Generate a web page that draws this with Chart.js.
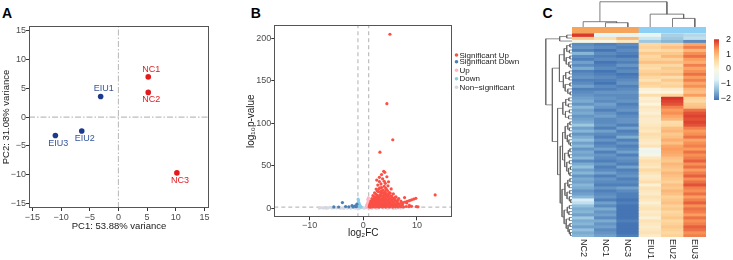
<!DOCTYPE html>
<html><head><meta charset="utf-8">
<script src="https://cdn.jsdelivr.net/npm/chart.js@4.4.0/dist/chart.umd.min.js"></script>
<style>
html,body{margin:0;padding:0;background:#fff;}
body{width:733px;height:260px;position:relative;overflow:hidden;font-family:'Liberation Sans',Arial,sans-serif;}
canvas{position:absolute;}
.lab{position:absolute;font-weight:bold;font-size:14px;line-height:14px;color:#000;}
</style></head><body>
<div class="lab" style="left:2px;top:5.5px">A</div>
<div class="lab" style="left:250.7px;top:5.5px">B</div>
<div class="lab" style="left:542.5px;top:5.5px">C</div>
<canvas id="pca" width="220" height="260" style="left:0;top:0"></canvas>
<canvas id="volcano" width="305" height="260" style="left:220px;top:0"></canvas>
<canvas id="rowdend" width="27" height="210" style="left:545px;top:27px"></canvas>
<canvas id="coldend" width="134" height="27" style="left:572px;top:0"></canvas>
<canvas id="heat" width="148" height="240" style="left:565px;top:20px"></canvas>
<canvas id="cbar" width="17" height="80" style="left:714px;top:29px"></canvas>
<script>
// ---------------- DATA ----------------
// Panel A: PCA
const pcaSamples = ['NC1', 'NC2', 'NC3', 'EIU1', 'EIU2', 'EIU3'];
const pcaGroup   = ['NC', 'NC', 'NC', 'EIU', 'EIU', 'EIU'];
const pcaPC1     = [5.2, 5.2, 10.2, -3.1, -6.4, -11.0];
const pcaPC2     = [7.0, 4.3, -9.7, 3.6, -2.4, -3.2];

// Panel B: volcano, [log2FC, -log10 p]
const sigUp = [
 [1.1,1.6],[1.2,2.4],[1.2,4.0],[1.3,6.2],[1.3,1.9],[1.4,3.1],[1.4,8.5],[1.5,5.0],[1.5,2.2],[1.6,11.3],
 [1.6,3.8],[1.7,1.7],[1.7,6.9],[1.8,2.9],[1.8,14.8],[1.9,4.6],[1.9,9.4],[2.0,2.0],[2.0,7.3],[2.1,3.4],
 [2.1,18.2],[2.2,5.6],[2.2,12.5],[2.3,2.6],[2.3,8.8],[2.4,4.2],[2.4,22.6],[2.5,1.8],[2.5,6.7],[2.5,15.9],
 [2.6,3.0],[2.6,10.4],[2.7,5.2],[2.7,27.3],[2.8,2.3],[2.8,8.0],[2.8,19.7],[2.9,4.0],[2.9,12.9],[3.0,1.9],
 [3.0,6.1],[3.0,31.5],[3.1,3.5],[3.1,9.6],[3.1,24.1],[3.2,2.5],[3.2,16.3],[3.3,5.4],[3.3,11.1],[3.4,3.2],
 [3.4,39.6],[3.4,20.5],[3.5,7.4],[3.5,1.9],[3.6,13.8],[3.6,4.6],[3.6,34.7],[3.7,9.0],[3.7,2.8],[3.8,17.6],
 [3.8,6.0],[3.9,25.8],[3.9,3.6],[4.0,11.7],[4.0,2.2],[4.0,42.3],[4.1,7.9],[4.1,29.4],[4.2,4.8],[4.2,15.0],
 [4.3,2.7],[4.3,21.9],[4.4,9.8],[4.4,37.1],[4.5,5.7],[4.5,3.0],[4.6,13.2],[4.6,26.4],[4.7,7.0],[4.7,2.0],
 [4.8,18.6],[4.8,4.1],[4.9,10.5],[5.0,6.3],[5.0,2.4],[5.1,14.6],[5.2,3.6],[5.2,22.8],[5.3,8.4],[5.4,5.0],
 [5.5,12.0],[5.5,2.1],[5.6,16.9],[5.7,6.8],[5.8,3.4],[5.9,10.1],[6.0,4.7],[6.1,13.5],[6.2,2.6],[6.3,7.6],
 [6.5,5.3],[6.6,11.4],[6.8,3.1],[7.0,8.6],[7.3,4.2],[7.7,12.6],[8.1,6.2],[8.6,3.5],
 [1.2,3.1],[1.3,5.3],[1.5,7.7],[1.6,2.8],[1.7,4.4],[1.8,8.3],[1.9,6.0],[2.0,10.9],[2.0,4.9],[2.1,13.4],
 [2.2,7.1],[2.3,3.8],[2.3,16.8],[2.4,10.7],[2.5,13.0],[2.6,7.9],[2.6,20.4],[2.7,11.8],[2.8,5.4],[2.8,14.7],
 [2.9,9.2],[2.9,22.9],[3.0,13.5],[3.1,7.0],[3.2,10.8],[3.2,19.4],[3.3,14.9],[3.4,6.6],[3.4,24.4],[3.5,10.3],
 [3.5,17.7],[3.6,8.2],[3.7,12.4],[3.7,21.3],[3.8,9.8],[3.9,15.6],[3.9,31.8],[4.0,8.6],[4.0,19.1],[4.1,12.6],
 [4.2,23.6],[4.3,10.2],[4.3,17.3],[4.4,6.4],[4.5,14.4],[4.5,20.9],[4.6,9.1],[4.7,16.2],[4.8,12.2],[4.9,7.8],
 [5.0,17.8],[5.1,10.9],[5.3,13.9],[5.4,8.7],[5.6,11.3],[5.8,7.9],[6.0,13.0],[6.4,9.4],[3.0,36.4],[3.3,28.6],
 [2.5,33.2],[4.7,31.2],[3.8,43.5],
 [5.0,2.9],[5.4,3.4],[5.8,4.0],[6.2,4.6],[6.6,5.2],[7.0,5.9],[7.4,6.6],[7.8,7.4],[8.2,8.2],[8.6,9.0],
 [9.0,9.9],[9.4,10.8],[9.8,11.7],
 [1.4,1.4],[2.2,1.5],[2.9,1.4],[3.6,1.5],[4.2,1.4],[4.9,1.6],[5.5,1.4],[6.0,1.7],[6.5,1.5],[7.0,1.9],
 [7.5,1.6],[8.0,2.1],[8.5,1.8],[9.0,2.3],[9.9,2.0],[10.2,1.7],
 [4.97,204.7],[4.4,123.0],[5.5,80.6],[3.1,66.0],[13.4,15.7]
];
const sigDown = [[-3.9,6.7],[-2.1,3.2],[-1.6,2.6],[-1.3,1.9],[-2.7,1.7],[-4.6,1.5],[-1.9,1.5],[-3.3,2.1],[-1.2,4.8],[-5.5,1.6]];
const upOnly = [[0.55,1.5],[0.6,2.6],[0.7,4.1],[0.75,1.9],[0.8,6.0],[0.85,3.2],[0.9,8.7],[0.9,2.3],[0.95,5.1],[0.95,12.4],[0.65,3.5],[0.85,10.6]];
const downOnly = [[-0.5,1.5],[-0.6,2.7],[-0.7,4.3],[-0.75,1.9],[-0.8,6.2],[-0.85,3.3],[-0.9,8.8],[-0.9,2.2],[-0.95,5.4],[-0.95,10.7],[-0.65,3.6],[-0.4,1.6]];
const nonSig = [
 [-8.2,0.3],[-7.8,0.7],[-7.4,0.2],[-7.0,0.9],[-6.6,0.4],[-6.2,1.1],[-5.8,0.2],[-5.4,0.7],[-5.0,0.4],[-4.6,1.0],
 [-4.2,0.1],[-3.8,0.6],[-3.4,0.9],[-3.0,0.3],[-2.6,1.1],[-2.2,0.5],[-1.8,0.8],[-1.4,0.2],[-1.0,1.0],[-0.6,0.4],
 [-0.2,0.8],[0.2,0.1],[0.6,0.7],[1.0,0.3],[1.4,1.0],[1.8,0.5],[2.2,0.9],[2.6,0.2],[3.0,0.7],[3.4,1.1],
 [3.8,0.4],[4.2,0.8],[4.6,0.2],[5.0,1.0],[5.4,0.5],[5.8,0.9],[6.2,0.3],[6.6,0.7],[7.0,0.2],[7.4,0.6],
 [-6.9,0.1],[-5.2,1.2],[-3.6,0.0],[-2.4,0.2],[-0.8,0.0],[0.0,0.5],[0.8,1.2],[2.4,0.0],[3.6,0.6],[4.8,0.5],
 [6.0,0.0],[-4.4,0.5],[-1.6,0.5],[1.6,0.1],[4.4,0.4],[5.6,0.0]
];
const fcCut = 1;
const pCut = 1.3;

// Panel C: heatmap (z-scores), columns in displayed order
const sampleNames  = ['NC2', 'NC1', 'NC3', 'EIU1', 'EIU2', 'EIU3'];
const sampleGroups = ['NC', 'NC', 'NC', 'EIU', 'EIU', 'EIU'];
const exprNC2 = [1.95,0.8,-0.2,
 -1.9,-1.8,-2.0,-1.5,-1.9,-2.0,-1.7,-1.9,-1.6,-2.0,-1.9,-1.8,-2.0,-1.9,-1.7,-2.0,-1.9,-1.8,
 -1.7,-1.6,-1.8,-1.5,-1.7,-1.6,-1.8,-1.7,
 -1.6,-1.3,-1.7,-1.5,-1.8,-1.6,-1.4,-1.7,-1.5,-1.8,
 -1.6,-1.7,-1.5,-1.9,-1.6,-1.4,-1.7,-1.5,-1.8,-1.6,
 -1.7,-1.5,-1.6,-1.8,-1.7,-1.5,-0.8,-1.0,-1.4,-1.6,
 -1.5,-1.7,-1.3,-1.6,-1.5,-1.7,-1.4,-1.6,-1.5];
const exprNC1 = [-0.6,0.5,-0.1,
 -2.0,-1.9,-2.1,-1.9,-2.0,-1.9,-2.1,-2.0,-1.9,-2.1,-2.0,-1.9,-2.0,-2.1,-1.9,-2.0,-1.8,-1.9,
 -1.8,-1.9,-1.7,-1.8,-2.0,-1.8,-1.7,-1.9,
 -1.9,-1.8,-2.0,-1.7,-1.9,-2.0,-1.8,-2.0,-1.9,-1.7,
 -2.0,-1.8,-1.9,-2.0,-1.8,-2.0,-1.9,-1.7,-2.0,-1.8,
 -1.9,-2.0,-1.8,-2.0,-1.9,-1.8,-2.0,-1.7,-1.9,-1.6,
 -1.8,-1.7,-1.9,-1.6,-1.8,-1.7,-1.9,-1.8,-1.7];
const exprNC3 = [-0.5,1.0,0.3,
 -1.9,-2.0,-1.9,-2.0,-2.1,-1.9,-2.0,-1.8,-2.0,-1.9,-2.1,-2.0,-1.9,-1.8,-2.0,-1.9,-1.8,-1.9,
 -1.9,-1.8,-2.0,-1.9,-1.8,-2.0,-1.9,-1.8,
 -1.8,-2.0,-1.7,-2.0,-1.9,-1.6,-2.0,-1.8,-2.0,-1.9,
 -1.7,-2.0,-1.8,-1.9,-2.0,-1.7,-2.0,-1.9,-1.8,-2.0,
 -1.9,-2.0,-1.7,-1.9,-2.0,-2.0,-2.1,-2.0,-2.1,-2.1,
 -2.1,-2.1,-2.1,-2.0,-2.1,-2.1,-2.1,-2.1,-2.0];
const exprEIU1 = [-0.6,-0.9,-1.3,
 0.6,0.7,0.5,0.8,0.6,0.7,0.9,0.6,0.5,0.7,0.8,0.6,0.4,0.7,0.6,0.1,-0.1,0.5,
 0.1,0.2,0.0,0.3,0.2,0.1,0.3,0.2,
 0.2,0.3,0.4,0.3,0.5,0.4,0.3,0.2,0.4,-0.3,
 -0.4,-0.2,0.3,0.5,0.4,0.3,0.6,0.4,0.2,0.3,
 0.5,0.1,0.4,0.3,0.2,0.4,0.3,0.1,0.3,0.4,
 0.2,0.3,0.1,0.4,0.3,0.2,0.3,0.4,0.2];
const exprEIU2 = [-1.2,-1.3,-1.5,
 0.7,0.9,0.6,0.8,1.0,0.7,0.9,0.6,0.8,0.7,0.9,0.5,0.8,0.6,0.7,0.2,0.0,0.6,
 2.0,1.9,1.8,1.5,1.3,1.4,1.2,1.0,
 0.5,0.6,0.9,1.0,0.8,0.9,1.1,0.9,1.2,1.3,
 1.2,1.1,0.9,0.8,1.0,0.9,0.8,1.0,0.9,0.8,
 0.7,0.9,0.8,1.0,0.9,0.7,0.8,0.9,0.7,0.8,
 0.6,0.7,0.8,0.6,0.7,0.8,0.7,0.6,0.7];
const exprEIU3 = [-1.1,-1.0,-1.9,
 1.2,1.5,1.0,1.4,1.6,1.3,1.1,1.5,1.2,1.4,1.6,1.3,1.5,1.2,1.4,1.0,0.9,1.3,
 0.7,0.6,0.8,0.9,1.6,1.8,1.9,1.8,
 1.9,1.8,1.5,1.3,1.4,1.6,1.2,1.4,1.5,1.3,
 1.6,1.4,1.5,1.7,1.4,1.6,1.3,1.5,1.7,1.4,
 1.6,1.8,1.5,1.4,1.6,1.3,1.5,1.7,1.4,1.6,
 1.5,1.3,1.6,1.4,1.5,1.7,1.6,1.4,1.5];
// column dendrogram: [height, left, right], leaves = column index
const colTree = [1.0, [0.21, 0, [0.17, 1, 2]], [0.51, 3, [0.34, 4, 5]]];
// row dendrogram: leaves = row index
const rowTree =
[1.0,
  [0.47, [0.2, 0, 1], 2],
  [0.75,
    [0.48,
      [0.3, [0.2, [0.08, 3, 4], [0.1, 5, 6]], [0.22, [0.08, 7, 8], [0.12, 9, [0.06, 10, 11]]]],
      [0.33, [0.24, [0.1, 12, 13], [0.11, 14, 15]], [0.26, [0.08, 16, 17], [0.16, 18, [0.07, 19, 20]]]]
    ],
    [0.55,
      [0.35, [0.24, [0.12, 21, 22], [0.14, 23, 24]], [0.25, [0.1, 25, 26], [0.13, 27, 28]]],
      [0.45,
        [0.36,
          [0.26, [0.16, [0.08, 29, 30], [0.1, 31, 32]], [0.18, [0.08, 33, 34], [0.12, 35, [0.06, 36, 37]]]],
          [0.28, [0.14, [0.08, 38, 39], [0.1, 40, 41]], [0.2, [0.1, 42, 43], [0.13, [0.06, 44, 45], [0.08, 46, 47]]]]
        ],
        [0.38,
          [0.27, [0.16, [0.08, 48, 49], [0.11, 50, 51]], [0.19, [0.09, 52, 53], [0.1, 54, [0.05, 55, 56]]]],
          [0.3, [0.18, [0.1, 57, 58], [0.12, 59, 60]], [0.22, [0.1, 61, 62], [0.15, [0.08, 63, 64], [0.1, 65, [0.06, 66, 67]]]]]
        ]
      ]
    ]
  ]
];
const colorbarTicks = [-2, -1, 0, 1, 2];

// ---------------- STYLE / HELPERS ----------------
const FAMILY = "'Liberation Sans', Arial, Helvetica, sans-serif";
Chart.defaults.font.family = FAMILY;
Chart.defaults.animation = false;
Chart.defaults.responsive = false;
Chart.defaults.devicePixelRatio = 1;
Chart.defaults.plugins.legend.display = false;
Chart.defaults.plugins.tooltip.enabled = false;
const fmt = v => String(v).replace('-', '\u2212');
const TICK_COL = '#4D4D4D', TITLE_COL = '#1A1A1A';

const framePlugin = {
  id: 'frame',
  afterDatasetsDraw(chart, args, opts) {
    if (!opts || !opts.color) return;
    const {ctx, chartArea: a} = chart;
    ctx.save();
    ctx.strokeStyle = opts.color; ctx.lineWidth = 1;
    ctx.strokeRect(Math.round(a.left) + 0.5, Math.round(a.top) + 0.5,
                   Math.round(a.right) - Math.round(a.left) - 1, Math.round(a.bottom) - Math.round(a.top) - 1);
    ctx.restore();
  }
};

function axisCfg(o) {
  return {
    type: 'linear', min: o.min, max: o.max,
    afterFit: o.fit,
    ticks: {stepSize: o.step, includeBounds: false, padding: o.pad, color: TICK_COL, font: {size: 9}, callback: v => fmt(v)},
    grid: {display: true, drawOnChartArea: false, drawTicks: true, tickLength: 3, color: '#333'},
    border: {display: false},
    title: {display: true, text: o.title, color: TITLE_COL, font: {size: o.tsize}, padding: {top: o.tpad, bottom: o.tpad}}
  };
}

// ---------------- PANEL A ----------------
const pcaColors = {NC: '#E41A1C', EIU: '#1B3A8E'};
const pcaLabelColors = {NC: '#E41A1C', EIU: '#34559E'};
const pcaXRange = [-15.6, 15.8], pcaYRange = [-15.8, 15.85];
const pcaSets = ['NC', 'EIU'].map(g => ({
  label: g,
  data: pcaSamples.map((s, i) => ({x: pcaPC1[i], y: pcaPC2[i], name: s, g: pcaGroup[i]})).filter(d => d.g === g),
  backgroundColor: pcaColors[g], borderWidth: 0, pointRadius: 2.8,
  labelColor: pcaLabelColors[g]
}));
const pcaLabelPlugin = {
  id: 'ptlabels',
  afterDatasetsDraw(chart, args, opts) {
    const ctx = chart.ctx;
    ctx.save();
    ctx.font = '9px ' + FAMILY; ctx.textAlign = 'center'; ctx.textBaseline = 'middle';
    chart.data.datasets.forEach((ds, di) => {
      if (!ds.labelColor) return;
      const meta = chart.getDatasetMeta(di);
      meta.data.forEach((el, j) => {
        const d = ds.data[j];
        const above = opts.above.includes(d.name);
        ctx.fillStyle = ds.labelColor;
        ctx.fillText(d.name, el.x + opts.dx, el.y + (above ? -opts.dy : opts.dy));
      });
    });
    ctx.restore();
  }
};
new Chart(document.getElementById('pca'), {
  type: 'scatter',
  data: {datasets: [
    ...pcaSets,
    {data: [{x: 0, y: pcaYRange[0]}, {x: 0, y: pcaYRange[1]}], showLine: true, borderColor: '#BDBDBD', borderWidth: 1.1, borderDash: [6, 2, 1.5, 2], pointRadius: 0},
    {data: [{x: pcaXRange[0], y: 0}, {x: pcaXRange[1], y: 0}], showLine: true, borderColor: '#BDBDBD', borderWidth: 1.1, borderDash: [6, 2, 1.5, 2], pointRadius: 0}
  ]},
  options: {
    layout: {padding: {left: 0, right: 11, top: 26, bottom: 28}},
    scales: {
      x: axisCfg({min: pcaXRange[0], max: pcaXRange[1], step: 5, pad: 1, title: 'PC1: 53.88% variance', tsize: 9.5, tpad: 0, fit: s => { s.height = 24; }}),
      y: axisCfg({min: pcaYRange[0], max: pcaYRange[1], step: 5, pad: 0, title: 'PC2: 31.08% variance', tsize: 9.5, tpad: 1, fit: s => { s.width = 29; }})
    },
    plugins: {frame: {color: '#555'}, ptlabels: {above: ['NC1', 'EIU1'], dx: 3, dy: 7.5}}
  },
  plugins: [framePlugin, pcaLabelPlugin]
});

// ---------------- PANEL B ----------------
const vXRange = [-16.6, 16.6], vYRange = [-10.6, 215.6];
const volcanoGroups = [
  {label: 'Significant Up', pts: sigUp, color: '#FA5046'},
  {label: 'Significant Down', pts: sigDown, color: '#4A7EB5'},
  {label: 'Up', pts: upOnly, color: '#FFB6C1'},
  {label: 'Down', pts: downOnly, color: '#87CEEB'},
  {label: 'Non\u2212significant', pts: nonSig, color: '#D5D8E0'}
];
const dashLine = (pts) => ({data: pts, showLine: true, borderColor: '#BDBDBD', borderWidth: 1.2, borderDash: [4, 3], pointRadius: 0});
const volcanoLegend = {
  id: 'vlegend',
  afterDraw(chart, args, opts) {
    const ctx = chart.ctx;
    ctx.save();
    ctx.font = '8px ' + FAMILY; ctx.textBaseline = 'middle'; ctx.textAlign = 'left';
    chart.data.datasets.filter(d => d.inLegend).forEach((ds, i) => {
      const y = opts.ys[i];
      ctx.fillStyle = ds.backgroundColor;
      ctx.beginPath(); ctx.arc(opts.dotX, y, 1.8, 0, Math.PI * 2); ctx.fill();
      ctx.fillStyle = TITLE_COL;
      ctx.fillText(ds.label, opts.textX, y + 0.3);
    });
    ctx.restore();
  }
};
new Chart(document.getElementById('volcano'), {
  type: 'scatter',
  data: {datasets: [
    ...volcanoGroups.map(g => ({label: g.label, inLegend: true, data: g.pts.map(p => ({x: p[0], y: p[1]})), backgroundColor: g.color, borderWidth: 0, pointRadius: 1.6})),
    dashLine([{x: -fcCut, y: vYRange[0]}, {x: -fcCut, y: vYRange[1]}]),
    dashLine([{x: fcCut, y: vYRange[0]}, {x: fcCut, y: vYRange[1]}]),
    dashLine([{x: vXRange[0], y: pCut}, {x: vXRange[1], y: pCut}])
  ]},
  options: {
    layout: {padding: {left: 25.5, right: 72.7, top: 25, bottom: 21}},
    scales: {
      x: axisCfg({min: vXRange[0], max: vXRange[1], step: 10, pad: 0, title: 'log\u2082FC', tsize: 10, tpad: 0, fit: s => { s.height = 21.7; }}),
      y: axisCfg({min: vYRange[0], max: vYRange[1], step: 50, pad: 0, title: 'log\u2081\u2080p-value', tsize: 10, tpad: 0, fit: s => { s.width = 28.8; }})
    },
    plugins: {frame: {color: '#555'}, vlegend: {dotX: 236.5, textX: 239.5, ys: [55, 61.7, 70.3, 78.8, 87.2]}}
  },
  plugins: [framePlugin, volcanoLegend]
});

// ---------------- PANEL C ----------------
const palette = ['#4575B4', '#91BFDB', '#E0F3F8', '#FBF7E2', '#FDD69C', '#FA9A5A', '#D73027'];
const colorMin = -2.1, colorMax = 2.02;
const annoColors = {NC: '#F6A45C', EIU: '#8ECFF5'};
function hex2rgb(h) { return [1, 3, 5].map(i => parseInt(h.substr(i, 2), 16)); }
function colorOf(v) {
  let t = (v - colorMin) / (colorMax - colorMin);
  t = Math.max(0, Math.min(1, t));
  const p = t * (palette.length - 1);
  const i = Math.min(Math.floor(p), palette.length - 2);
  const f = p - i;
  const a = hex2rgb(palette[i]), b = hex2rgb(palette[i + 1]);
  return 'rgb(' + a.map((c, k) => Math.round(c + (b[k] - c) * f)).join(',') + ')';
}
const exprCols = [exprNC2, exprNC1, exprNC3, exprEIU1, exprEIU2, exprEIU3];
const nRows = exprNC2.length;
const rowYRange = [-2.2, nRows];
const annoSpan = [-2.2, -0.3];

function dendroPoints(tree) {
  const pts = [];
  function walk(n) {
    if (typeof n === 'number') return {h: 0, p: n + 0.5};
    const [h, l, r] = n;
    const L = walk(l), R = walk(r);
    pts.push({h: L.h, p: L.p}, {h: h, p: L.p}, {h: h, p: R.p}, {h: R.h, p: R.p}, {h: NaN, p: NaN});
    return {h: h, p: (L.p + R.p) / 2};
  }
  walk(tree);
  return pts;
}
const DEND_COL = '#5E5E5E';

// row dendrogram
new Chart(document.getElementById('rowdend'), {
  type: 'scatter',
  data: {datasets: [{data: dendroPoints(rowTree).map(d => ({x: d.h, y: d.p})), showLine: true, spanGaps: false, borderColor: DEND_COL, borderWidth: 0.7, pointRadius: 0, clip: false}]},
  options: {
    layout: {padding: 0},
    scales: {
      x: {type: 'linear', min: 0, max: 1.03, reverse: true, display: false},
      y: {type: 'linear', min: rowYRange[0], max: rowYRange[1], reverse: true, display: false}
    }
  }
});

// column dendrogram
new Chart(document.getElementById('coldend'), {
  type: 'scatter',
  data: {datasets: [{data: dendroPoints(colTree).map(d => ({x: d.p, y: d.h})), showLine: true, spanGaps: false, borderColor: DEND_COL, borderWidth: 0.8, pointRadius: 0, clip: false}]},
  options: {
    layout: {padding: 0},
    scales: {
      x: {type: 'linear', min: 0, max: sampleNames.length, display: false},
      y: {type: 'linear', min: 0, max: 1.07, display: false}
    }
  }
});

// heatmap (floating bars, one dataset per row) + annotation bar
const heatSets = [];
for (let r = 0; r < nRows; r++) {
  heatSets.push({data: sampleNames.map(() => [r, r + 1]), backgroundColor: exprCols.map(c => colorOf(c[r]))});
}
heatSets.push({data: sampleNames.map(() => annoSpan), backgroundColor: sampleGroups.map(g => annoColors[g])});
const colLabelPlugin = {
  id: 'collabels',
  afterDraw(chart) {
    const ctx = chart.ctx, xs = chart.scales.x, a = chart.chartArea;
    ctx.save();
    ctx.font = '9px ' + FAMILY; ctx.fillStyle = TITLE_COL; ctx.textAlign = 'left'; ctx.textBaseline = 'middle';
    chart.data.labels.forEach((lab, i) => {
      ctx.save();
      ctx.translate(xs.getPixelForValue(i), a.bottom + 2);
      ctx.rotate(Math.PI / 2);
      ctx.fillText(lab, 0, 0);
      ctx.restore();
    });
    ctx.restore();
  }
};
new Chart(document.getElementById('heat'), {
  type: 'bar',
  data: {labels: sampleNames, datasets: heatSets},
  options: {
    layout: {padding: {left: 7, right: 7, top: 7, bottom: 23}},
    datasets: {bar: {barPercentage: 1, categoryPercentage: 1, grouped: false, borderWidth: 0}},
    scales: {
      x: {type: 'category', display: false},
      y: {type: 'linear', min: rowYRange[0], max: rowYRange[1], reverse: true, display: false}
    }
  },
  plugins: [colLabelPlugin]
});

// color bar
new Chart(document.getElementById('cbar'), {
  type: 'bar',
  data: {labels: [''], datasets: [{
    data: [[colorMin, colorMax]],
    backgroundColor: (c) => {
      const ch = c.chart;
      if (!ch.chartArea) return palette[3];
      const ys = ch.scales.y;
      const g = ch.ctx.createLinearGradient(0, ys.getPixelForValue(colorMin), 0, ys.getPixelForValue(colorMax));
      palette.forEach((col, i) => g.addColorStop(i / (palette.length - 1), col));
      return g;
    },
    barPercentage: 1, categoryPercentage: 1, borderWidth: 0
  }]},
  options: {
    layout: {padding: 0},
    scales: {
      x: {display: false},
      y: {position: 'right', min: -2.3, max: 2.3, afterFit: s => { s.width = 12; },
          afterBuildTicks: s => { s.ticks = colorbarTicks.map(v => ({value: v})); },
          grid: {display: false}, border: {display: false},
          ticks: {padding: 1, crossAlign: 'far', color: TITLE_COL, font: {size: 9}, callback: v => fmt(v)}}
    }
  }
});
</script>
</body></html>
